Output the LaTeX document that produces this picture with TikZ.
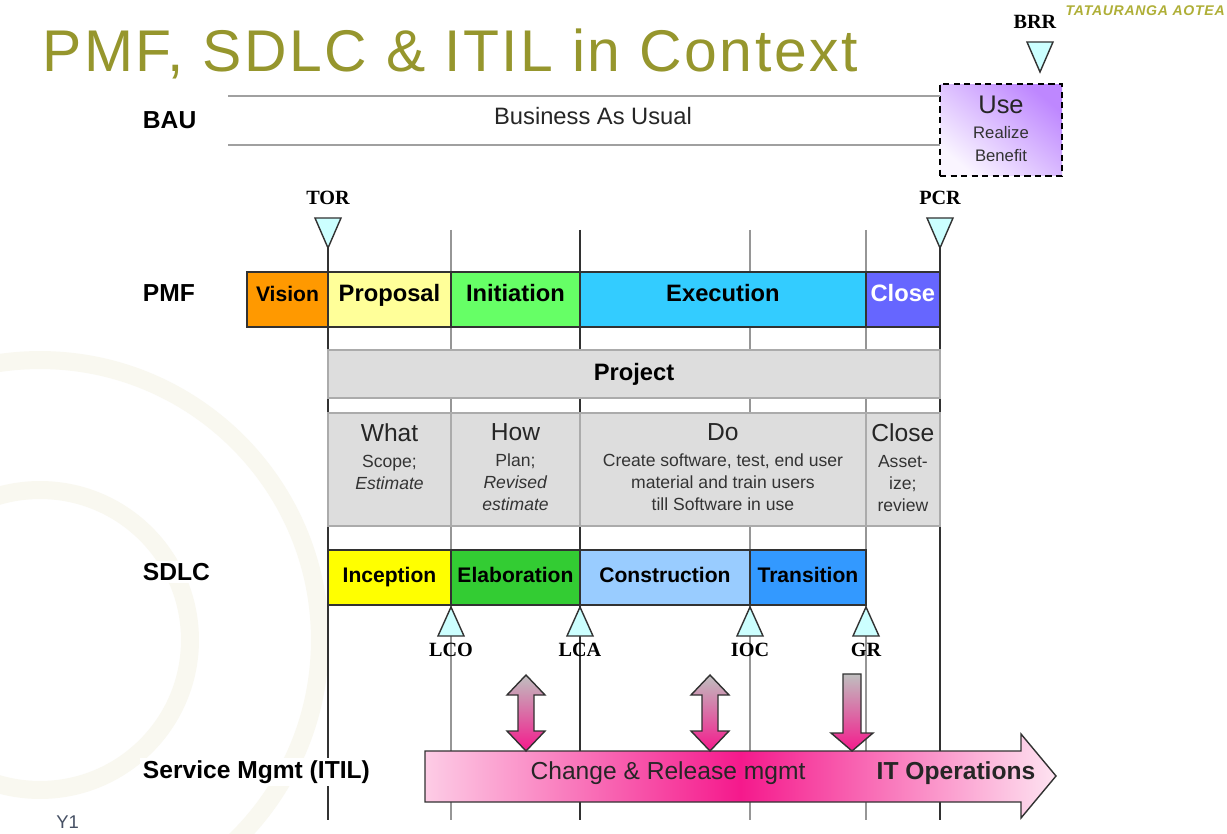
\documentclass[tikz,border=0pt]{standalone}
\usepackage{fontspec}
\setmainfont{Liberation Sans}
\newfontfamily\msfont{Liberation Serif}
\newfontfamily\titlefont[LetterSpace=4.3]{Liberation Sans}
\newfontfamily\brandfont[LetterSpace=5]{Liberation Sans}
\usetikzlibrary{positioning}

\definecolor{ctitle}{RGB}{150,150,45}
\definecolor{cvision}{RGB}{255,153,0}
\definecolor{cproposal}{RGB}{255,255,153}
\definecolor{cinitiation}{RGB}{102,255,102}
\definecolor{cexecution}{RGB}{51,204,255}
\definecolor{cclose}{RGB}{102,102,255}
\definecolor{cproject}{RGB}{221,221,221}
\definecolor{cinception}{RGB}{255,255,0}
\definecolor{celab}{RGB}{51,204,51}
\definecolor{cconstr}{RGB}{153,204,255}
\definecolor{ctrans}{RGB}{51,153,255}
\definecolor{cmile}{RGB}{204,255,255}
\definecolor{cuse}{RGB}{190,135,255}
\definecolor{cpink}{RGB}{245,25,140}
\definecolor{cline}{RGB}{50,50,50}
\definecolor{cgrid}{RGB}{150,150,150}
\definecolor{cwater}{RGB}{249,248,240}
\definecolor{cbrand}{RGB}{175,175,55}
\definecolor{cslide}{RGB}{70,80,100}

\tikzset{
  phase/.style={draw=cline, line width=0.8pt, outer sep=0pt, inner sep=0pt,
    minimum height=1.1cm, text height=10pt, text depth=7.8pt,
    font=\fontsize{13.5}{15}\selectfont\bfseries},
  sdlc/.style={phase, text height=10pt, text depth=4.8pt, font=\fontsize{12}{14}\selectfont\bfseries},
  greybox/.style={draw=cgrid!80, line width=0.8pt, fill=cproject, outer sep=0pt, inner sep=0pt},
  rowlab/.style={anchor=west, fill=white, inner sep=1.5pt, font=\fontsize{14}{16}\selectfont\bfseries},
  mslab/.style={inner sep=0pt, font=\msfont\fontsize{11.5}{13}\selectfont\bfseries},
  head/.style={inner sep=0pt, font=\fontsize{14}{16}\selectfont, text=black!85},
  subtext/.style={inner sep=0pt, align=center, font=\fontsize{10}{12.5}\selectfont, text=black!80},
  gridd/.style={draw=cline, line width=0.75pt},
  gridl/.style={draw=cgrid, line width=0.6pt},
  baurule/.style={draw=cgrid!90, line width=0.7pt},
  tri/.style={draw=cline, fill=cmile, line width=0.8pt},
  smallarrow/.style={draw=cline, line width=0.8pt, top color=black!25, bottom color=cpink},
  bigarrow/.style={draw=cline, line width=0.8pt, left color=cpink!22, right color=cpink!12, middle color=cpink},
  usebox/.style={draw=black, line width=0.9pt, dash pattern=on 3.5pt off 2.5pt,
    top color=cuse, bottom color=cuse!8, shading angle=-40,
    minimum width=2.44cm, minimum height=1.84cm, outer sep=0pt},
  mdown/.pic={\draw[tri] (-13,-30) -- (13,-30) -- (0,0) -- cycle;},
  mup/.pic={\draw[tri] (-13,29) -- (13,29) -- (0,0) -- cycle;},
  dblarrow/.pic={\shade[smallarrow] (0,0) -- (19,20) -- (8,20) -- (8,56) -- (19,56) -- (0,76)
    -- (-19,56) -- (-8,56) -- (-8,20) -- (-19,20) -- cycle;},
  downarrow/.pic={\shade[smallarrow] (-9,0) -- (9,0) -- (9,59) -- (21,59) -- (0,77)
    -- (-21,59) -- (-9,59) -- cycle;}
}

\begin{document}
\begin{tikzpicture}[x=0.02cm,y=-0.02cm]
\useasboundingbox (0,0) rectangle (1227,834);
\fill[white] (0,0) rectangle (1227,834);

%%Watermark
\begin{scope}
\clip (0,240) rectangle (330,834);
\draw[cwater, line width=0.36cm] (40,640) circle[radius=3cm];
\draw[cwater, line width=0.36cm] (40,640) circle[radius=5.6cm];
\end{scope}

%%Title
\node[anchor=base west, inner sep=0pt, text=ctitle, font=\titlefont\fontsize{33.5}{38}\selectfont] (title) at (42,72) {PMF, SDLC \& ITIL in Context};
\node[anchor=east, inner sep=0pt, text=cbrand, font=\brandfont\fontsize{8}{9}\selectfont\bfseries\itshape] (brand) at (1225,11) {TATAURANGA AOTEA};
\node[anchor=north west, inner sep=0pt, text=cslide, font=\fontsize{10.5}{12}\selectfont] (slideno) at (56,815) {Y1};

%%Row labels
\node[rowlab] (bau) at (140,120) {BAU};
\node[rowlab] (pmf) at (140,293) {PMF};
\node[rowlab] (sdlclab) at (140,572) {SDLC};

%%BAU
\node[usebox] (use) at (1001,130) {};
\node[inner sep=0pt, font=\fontsize{14.5}{16}\selectfont, text=black!85] (usetxt) at (1001,105) {Use};
\node[subtext, font=\fontsize{9.5}{13.6}\selectfont] (realize) at (1001,144) {Realize\\Benefit};
\coordinate (bauta) at (228,96);
\coordinate (bautb) at (use.west |- bauta);
\coordinate (bauba) at (228,145);
\coordinate (baubb) at (use.west |- bauba);
\draw[baurule] (bauta) -- (bautb);
\draw[baurule] (bauba) -- (baubb);
\node[font=\fontsize{13.5}{15}\selectfont, text=black!85] (busual) at (593,116) {Business As Usual};

%%Grid lines
\foreach \n/\x/\y/\s in {a/328/248/gridd, b/451/230/gridl, c/580/230/gridd,
                         d/750/230/gridl, e/866/230/gridl, f/940/248/gridd}{
  \coordinate (top\n) at (\x,\y);
  \coordinate (bot\n) at (\x,820);
  \draw[\s] (top\n) -- (bot\n);
}
\node[rowlab] (itil) at (140,772) {Service Mgmt (ITIL)};

%%PMF
\node[phase, fill=cvision, minimum width=1.62cm, font=\fontsize{12}{14}\selectfont\bfseries] (vision) at (287.5,299.5) {Vision};
\node[phase, fill=cproposal, minimum width=2.46cm, right=0pt of vision] (proposal) {Proposal};
\node[phase, fill=cinitiation, minimum width=2.58cm, right=0pt of proposal] (initiation) {Initiation};
\node[phase, fill=cexecution, minimum width=5.72cm, right=0pt of initiation] (execution) {Execution};
\node[phase, fill=cclose, minimum width=1.48cm, right=0pt of execution, text=white] (close) {Close};

%%Project
\node[greybox, minimum width=12.24cm, minimum height=0.96cm, font=\fontsize{13.5}{15}\selectfont\bfseries] (project) at (634,374) {Project};
\node[greybox, minimum width=2.46cm, minimum height=2.26cm] (what) at (389.5,469.5) {};
\node[greybox, minimum width=2.58cm, minimum height=2.26cm, right=0pt of what] (how) {};
\node[greybox, minimum width=5.72cm, minimum height=2.26cm, right=0pt of how] (do) {};
\node[greybox, minimum width=1.48cm, minimum height=2.26cm, right=0pt of do] (closing) {};

\node[head, below=0.2cm of what.north] (whath) {What};
\node[head, below=0.2cm of how.north] (howh) {How};
\node[head, below=0.2cm of do.north] (doh) {Do};
\node[head, below=0.2cm of closing.north] (closingh) {Close};
\node[subtext, below=0.26cm of whath.south] (whats) {Scope;\\\textit{Estimate}};
\node[subtext, below=0.26cm of howh.south] (hows) {Plan;\\\textit{Revised}\\\textit{estimate}};
\node[subtext, below=0.26cm of doh.south] (dos) {Create software, test, end user\\material and train users\\till Software in use};
\node[subtext, below=0.26cm of closingh.south] (closings) {Asset-\\ize;\\review};

%%SDLC
\node[sdlc, fill=cinception, minimum width=2.46cm] (inception) at (389.5,577.5) {Inception};
\node[sdlc, fill=celab, minimum width=2.58cm, right=0pt of inception] (elaboration) {Elaboration};
\node[sdlc, fill=cconstr, minimum width=3.4cm, right=0pt of elaboration] (construction) {Construction};
\node[sdlc, fill=ctrans, minimum width=2.32cm, right=0pt of construction] (transition) {Transition};

%%Milestones
\pic at (topa) {mdown};
\pic at (topf) {mdown};
\coordinate (brr) at (1040,72);
\pic at (brr) {mdown};
\node[mslab] (torlab) at (328,198) {TOR};
\node[mslab] (pcrlab) at (940,198) {PCR};
\node[mslab] (brrlab) at (1035,22) {BRR};
\foreach \n/\x/\t in {lco/451/LCO, lca/580/LCA, ioc/750/IOC, gr/866/GR}{
  \coordinate (\n) at (\x,607);
  \pic at (\n) {mup};
  \node[mslab] (\n lab) at (\x,650) {\t};
}

%%ITIL
\shade[bigarrow] (425,751) -- (1021,751) -- (1021,734) -- (1056,776) -- (1021,818) -- (1021,802) -- (425,802) -- cycle;
\pic at (526,675) {dblarrow};
\pic at (710,675) {dblarrow};
\pic at (852,674) {downarrow};
\node[font=\fontsize{14}{16}\selectfont, text=black!85] (change) at (668,773) {Change \& Release mgmt};
\node[font=\fontsize{14}{16}\selectfont\bfseries, text=black!85] (itops) at (956,773) {IT Operations};
\end{tikzpicture}
\end{document}
